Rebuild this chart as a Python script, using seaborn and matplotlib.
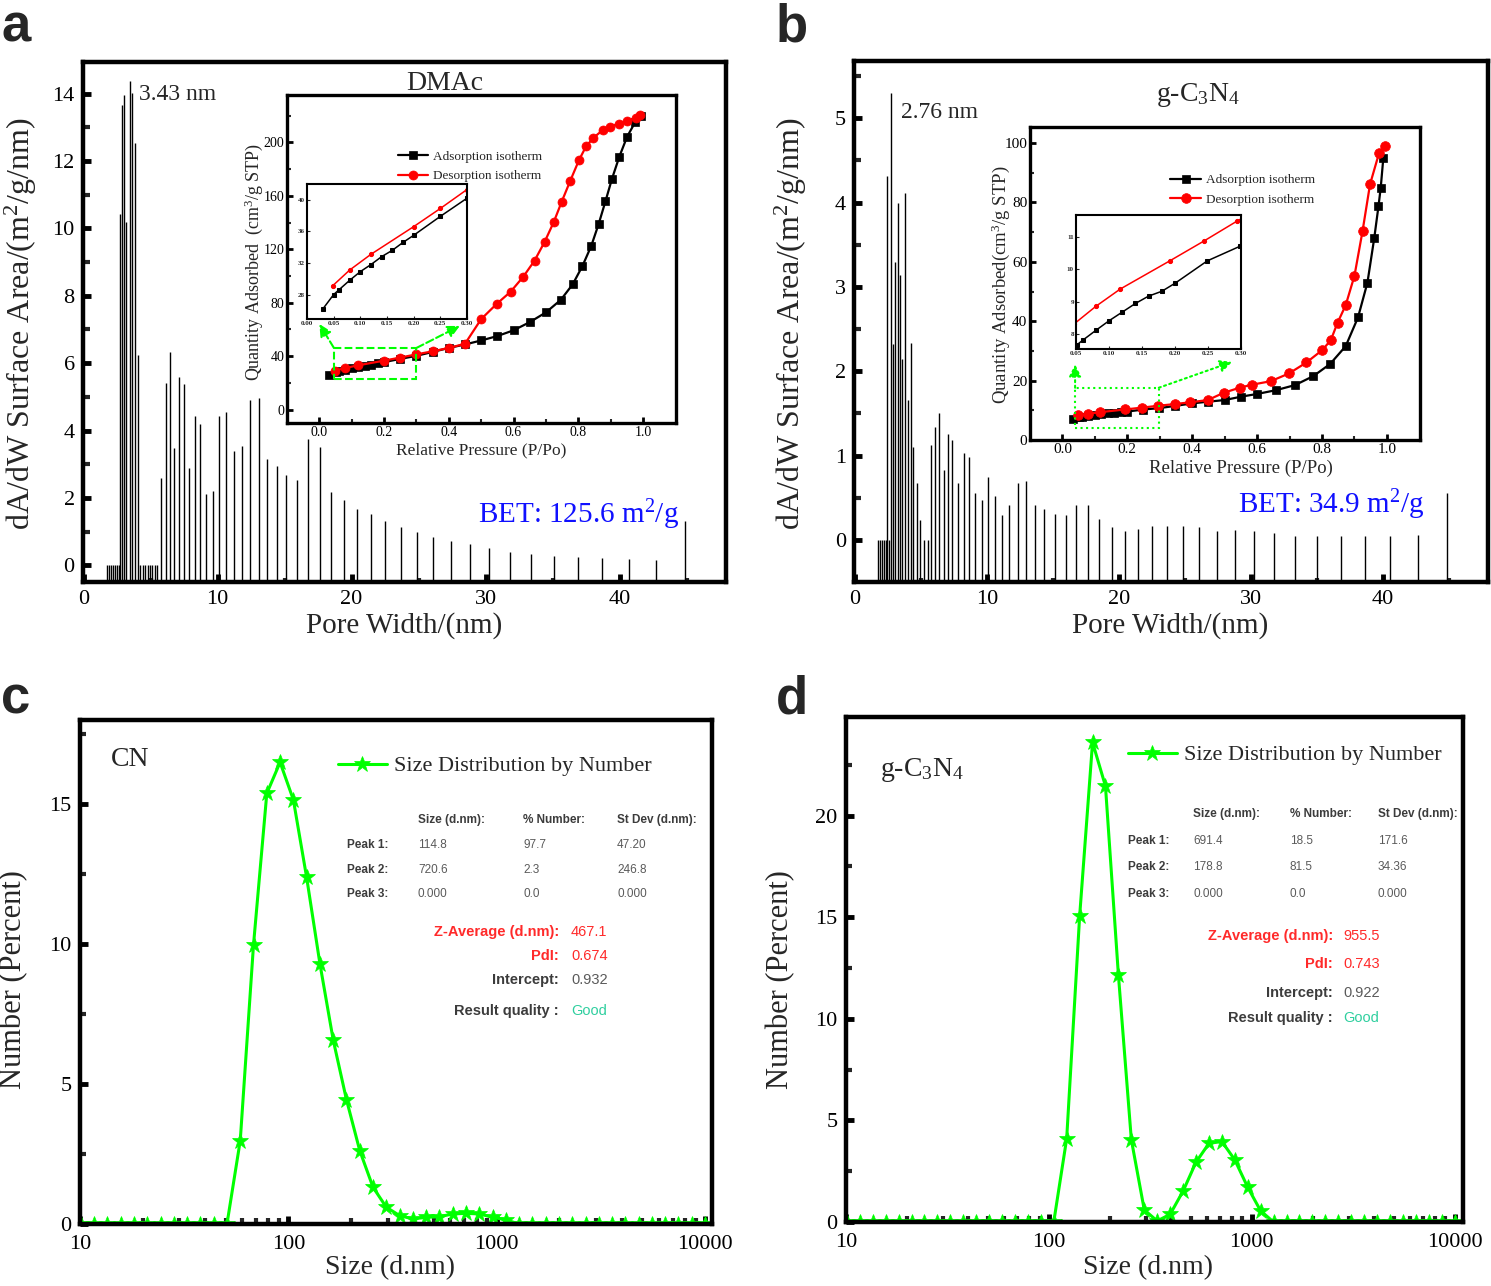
import numpy as np
import pandas as pd
import matplotlib
matplotlib.use("Agg")
import matplotlib.pyplot as plt
import seaborn as sns
from matplotlib.patches import Rectangle

W, H = 1491, 1286

# ---------------- data ----------------
# panel a: pore size distribution, DMAc sample
a_pore = [1.75, 1.9, 2.05, 2.2, 2.35, 2.5, 2.65, 2.72, 2.88, 3.03, 3.2, 3.43, 3.63, 3.83, 4.05,
          4.2, 4.43, 4.6, 4.78, 4.95, 5.13, 5.3, 5.48,
          5.8, 6.15, 6.43, 6.75, 7.1, 7.5, 7.88, 8.3, 8.7, 9.13, 9.65, 10.13, 10.65, 11.23, 11.83,
          12.45, 13.08, 13.7, 14.45,
          15.12, 15.9, 16.74, 17.61, 18.49, 19.41, 20.4, 21.42, 22.52, 23.66, 24.86, 26.1, 27.45,
          28.82, 30.29, 31.8, 33.42, 35.11, 36.88, 38.72, 40.67, 42.7, 44.9]
a_area = [0, 0, 0, 0, 0, 0, 0, 10.44, 13.65, 13.97, 10.19, 14.38, 14.02, 12.53, 6.24,
          0, 0, 0, 0, 0, 0, 0, 0,
          2.59, 5.42, 6.32, 3.48, 5.59, 5.39, 2.9, 4.44, 4.2, 2.11, 2.21, 4.44, 4.54, 3.39, 3.53,
          4.92, 4.97, 3.16, 2.96,
          2.69, 2.54, 3.76, 3.51, 2.18, 1.93, 1.68, 1.51, 1.32, 1.15, 1.0, 0.85, 0.73,
          0.62, 0.5, 0.4, 0.33, 0.29, 0.25, 0.23, 0.19, 0.15, 1.33]

# panel b: pore size distribution, g-C3N4
b_pore = [1.75, 1.9, 2.05, 2.2, 2.35, 2.45, 2.6, 2.75, 2.9, 3.05, 3.23, 3.4, 3.55, 3.8, 4.05,
          4.23, 4.43, 4.73, 4.9, 5.2, 5.5,
          5.78, 6.08, 6.35, 6.73, 7.03, 7.38, 7.78, 8.23, 8.65, 9.08, 9.6, 10.08, 10.58, 11.15,
          11.7, 12.33, 12.95, 13.63, 14.3,
          15.18, 15.95, 16.75, 17.63, 18.46, 19.44, 20.44, 21.44, 22.52, 23.65, 24.85, 26.1, 27.4,
          28.78, 30.2, 31.73, 33.31, 34.99, 36.79, 38.67, 40.56, 42.62, 44.85]
b_area = [0, 0, 0, 0, 0, 4.31, 0, 5.3, 2.32, 3.29, 3.99, 3.14, 2.14, 4.11, 1.66,
          2.34, 1.1, 0.67, 0.24, 0, 0,
          1.12, 1.34, 1.5, 0.83, 1.26, 1.19, 0.68, 1.03, 0.98, 0.55, 0.47, 0.75, 0.52, 0.3,
          0.41, 0.67, 0.7, 0.41, 0.37,
          0.31, 0.3, 0.41, 0.41, 0.25, 0.15, 0.11, 0.13, 0.17, 0.16, 0.17, 0.15, 0.11,
          0.12, 0.1, 0.08, 0.04, 0.05, 0.05, 0.05, 0.05, 0.06, 0.56]

# isotherms (inset of a)
a_ads_p = [0.03, 0.05, 0.06, 0.08, 0.1, 0.12, 0.14, 0.16, 0.18, 0.2, 0.25, 0.3, 0.35, 0.4, 0.45,
           0.5, 0.55, 0.6, 0.65, 0.7, 0.746, 0.783, 0.813, 0.84, 0.863, 0.884, 0.904, 0.927,
           0.951, 0.976, 0.994]
a_ads_q = [26.2, 28.0, 28.6, 29.8, 30.9, 31.8, 32.8, 33.6, 34.6, 35.5, 37.9, 40.2, 43.1, 46.1,
           48.7, 51.7, 55.0, 59.3, 65.4, 72.7, 82.1, 93.8, 107.5, 122.4, 138.9, 155.9, 172.6,
           189.4, 204.3, 215.2, 219.8]
a_des_p = [0.048, 0.08, 0.12, 0.2, 0.25, 0.3, 0.35, 0.4, 0.45, 0.5, 0.548, 0.591, 0.63, 0.665,
           0.696, 0.724, 0.749, 0.775, 0.802, 0.824, 0.847, 0.875, 0.899, 0.925, 0.95, 0.978, 0.992]
a_des_q = [29.1, 31.1, 33.1, 36.6, 38.9, 41.3, 43.6, 46.1, 49.2, 67.7, 79.1, 88.2, 99.4, 111.5,
           125.5, 140.2, 155.7, 171.1, 186.6, 197.0, 203.5, 209.1, 211.9, 214.0, 216.0, 218.5, 220.3]

# isotherms (inset of b)
b_ads_p = [0.031, 0.052, 0.06, 0.08, 0.1, 0.12, 0.14, 0.16, 0.18, 0.2, 0.249, 0.299, 0.348,
           0.398, 0.448, 0.5, 0.551, 0.6, 0.659, 0.717, 0.773, 0.825, 0.873, 0.911, 0.94, 0.961,
           0.974, 0.981, 0.989]
b_ads_q = [6.95, 7.66, 7.79, 8.1, 8.4, 8.67, 8.94, 9.17, 9.32, 9.57, 10.27, 10.73, 11.5, 12.3,
           12.9, 13.45, 14.6, 15.5, 16.8, 18.5, 21.5, 25.6, 31.6, 41.3, 53.0, 68.0, 78.7, 85.0, 95.0]
b_des_p = [0.047, 0.08, 0.117, 0.193, 0.244, 0.294, 0.346, 0.394, 0.448, 0.497, 0.546, 0.583,
           0.642, 0.698, 0.752, 0.801, 0.827, 0.848, 0.873, 0.9, 0.925, 0.948, 0.976, 0.994]
b_des_q = [8.3, 8.85, 9.39, 10.28, 10.89, 11.51, 12.1, 12.7, 13.45, 15.9, 17.6, 18.6, 19.8, 22.4,
           26.1, 30.3, 33.6, 39.5, 45.4, 55.3, 70.4, 86.1, 96.7, 99.0]

# DLS size classes (nm) and number distributions
dls_size = [10.1, 11.7, 13.54, 15.69, 18.17, 21.04, 24.36, 28.21, 32.67, 37.84, 43.82, 50.75,
            58.77, 68.06, 78.82, 91.28, 105.7, 122.4, 141.8, 164.2, 190.1, 220.2, 255.0, 295.3,
            342.0, 396.1, 458.7, 531.2, 615.1, 712.4, 825.0, 955.4, 1106, 1281, 1484, 1718,
            1990, 2305, 2669, 3091, 3580, 4145, 4801, 5560, 6439, 7456, 8635, 10000]
cn_number = [0, 0, 0, 0, 0, 0, 0, 0, 0, 0, 0, 0,
             2.98, 9.98, 15.38, 16.49, 15.15, 12.38, 9.29, 6.57, 4.44, 2.62, 1.31, 0.6,
             0.3, 0.18, 0.24, 0.26, 0.36, 0.38, 0.36, 0.24, 0.15, 0, 0, 0,
             0, 0, 0, 0, 0, 0, 0, 0, 0, 0, 0, 0]
gcn_number = [0, 0, 0, 0, 0, 0, 0, 0, 0, 0, 0, 0,
              0, 0, 0, 0, 0, 4.1, 15.05, 23.6, 21.45, 12.15, 4.05, 0.6,
              0.05, 0.38, 1.52, 2.94, 3.87, 3.96, 3.06, 1.71, 0.55, 0, 0, 0,
              0, 0, 0, 0, 0, 0, 0, 0, 0, 0, 0, 0]

# DLS report tables
table_head = ["Size (d.nm):", "% Number:", "St Dev (d.nm):"]
cn_peaks = [["Peak 1:", "114.8", "97.7", "47.20"],
            ["Peak 2:", "720.6", "2.3", "246.8"],
            ["Peak 3:", "0.000", "0.0", "0.000"]]
gcn_peaks = [["Peak 1:", "691.4", "18.5", "171.6"],
             ["Peak 2:", "178.8", "81.5", "34.36"],
             ["Peak 3:", "0.000", "0.0", "0.000"]]
summary_keys = ["Z-Average (d.nm):", "PdI:", "Intercept:", "Result quality :"]
cn_summary = ["467.1", "0.674", "0.932", "Good"]
gcn_summary = ["955.5", "0.743", "0.922", "Good"]

# ---------------- style ----------------
sns.set_theme(style="ticks")
plt.rcParams["font.family"] = ["Liberation Serif", "DejaVu Serif"]
plt.rcParams["mathtext.fontset"] = "custom"
plt.rcParams["mathtext.rm"] = "Liberation Serif"
plt.rcParams["mathtext.it"] = "Liberation Serif:italic"
plt.rcParams["mathtext.bf"] = "Liberation Serif:bold"
plt.rcParams["mathtext.default"] = "regular"

GREEN = "#00ff00"
RED = "#ff0000"

fig = plt.figure(figsize=(W / 100, H / 100), dpi=100)
fig.patch.set_facecolor("white")


def px_axes(l, t, r, b):
    return fig.add_axes([l / W, 1 - b / H, (r - l) / W, (b - t) / H])


def label(x, y, s, size, **kw):
    kw.setdefault("ha", "center")
    kw.setdefault("va", "center")
    return fig.text(x / W, 1 - y / H, s, fontsize=size, **kw)


def frame(ax, lw):
    ax.set_facecolor("white")
    for sp in ax.spines.values():
        sp.set_linewidth(lw)
        sp.set_color("black")


def isotherm_inset(box, ads_p, ads_q, des_p, des_q, ylim, yt, ymt, leg_anchor, ms, tsize):
    ax = px_axes(*box)
    frame(ax, 2.4)
    sns.lineplot(x=ads_p, y=ads_q, ax=ax, color="black", marker="s", markersize=ms,
                 markeredgecolor="black", markeredgewidth=0.5, lw=1.6,
                 label="Adsorption isotherm")
    sns.lineplot(x=des_p, y=des_q, ax=ax, color=RED, marker="o", markersize=ms + 1,
                 markeredgecolor=RED, markeredgewidth=0.5, lw=1.6,
                 label="Desorption isotherm")
    ax.set_xlim(-0.1, 1.102)
    ax.set_ylim(*ylim)
    ax.set_xticks([0, 0.2, 0.4, 0.6, 0.8, 1.0])
    ax.set_xticklabels(["0.0", "0.2", "0.4", "0.6", "0.8", "1.0"])
    ax.set_xticks(np.arange(0.1, 1.0, 0.2), minor=True)
    ax.set_yticks(yt)
    ax.set_yticks(ymt, minor=True)
    ax.tick_params(which="major", direction="in", length=4, width=2, labelsize=tsize,
                   pad=2, colors="black")
    ax.tick_params(which="minor", direction="in", length=3, width=1.5)
    ax.legend(loc="upper left", bbox_to_anchor=leg_anchor, frameon=False, fontsize=9.5,
              handlelength=2.3, handletextpad=0.4, labelspacing=0.55, borderpad=0,
              borderaxespad=0)
    return ax


def mini_inset(box, ads_p, ads_q, des_p, des_q, xlim, ylim, xt, xtl, yt):
    ax = px_axes(*box)
    frame(ax, 1.5)
    sns.lineplot(x=ads_p, y=ads_q, ax=ax, color="black", marker="s", markersize=2.5,
                 markeredgecolor="black", lw=1.1, legend=False)
    sns.lineplot(x=des_p, y=des_q, ax=ax, color=RED, marker="o", markersize=3,
                 markeredgecolor=RED, lw=1.1, legend=False)
    ax.set_xlim(*xlim)
    ax.set_ylim(*ylim)
    ax.set_xticks(xt)
    ax.set_xticklabels(xtl)
    ax.set_yticks(yt)
    ax.tick_params(direction="in", length=2, width=0.8, labelsize=5, pad=1.5)
    for t in ax.get_xticklabels() + ax.get_yticklabels():
        t.set_fontweight("bold")
    return ax


def zoom_marks(ax, rect, src, dst, ls):
    x0, y0, w, h = rect
    ax.add_patch(Rectangle((x0, y0), w, h, fill=False, ec=GREEN, ls=ls, lw=1.5, zorder=5))
    for s, d in zip(src, dst):
        ax.annotate("", xy=d, xytext=s,
                    arrowprops=dict(arrowstyle="-|>", color=GREEN, ls=ls, lw=1.5,
                                    mutation_scale=18, shrinkA=0, shrinkB=0))


def pore_panel(box, pore, area, ylim, yt, ymt, xlim):
    ax = px_axes(*box)
    frame(ax, 3.2)
    ax.vlines(pore, ylim[0], area, color="black", lw=1.0)
    ax.set_xlim(*xlim)
    ax.set_ylim(*ylim)
    ax.set_xticks([0, 10, 20, 30, 40])
    ax.set_xticks([5, 15, 25, 35, 45], minor=True)
    ax.set_yticks(yt)
    ax.set_yticks(ymt, minor=True)
    ax.tick_params(which="major", direction="in", length=6, width=3.5, labelsize=16,
                   pad=6, colors="black")
    ax.tick_params(which="minor", direction="in", length=5, width=3)
    ax.tick_params(axis="x", which="minor", length=3)
    return ax


# ---------------- panel a ----------------
ax_a = pore_panel((83, 62, 725.5, 581.5), a_pore, a_area, (-0.48, 14.94),
                  np.arange(0, 15, 2), np.arange(1, 15, 2), (-0.04, 47.9))
label(178, 95, "3.43 nm", 17)
label(445, 84, "DMAc", 20)
label(579, 515, "BET: 125.6 m$^2$/g", 21, color="#1010ff")
label(21, 324, "dA/dW Surface Area/(m$^2$/g/nm)", 23, rotation=90)
label(404, 626, "Pore Width/(nm)", 21)

ins_a = isotherm_inset((287, 95, 676, 423), a_ads_p, a_ads_q, a_des_p, a_des_q,
                       (-10.1, 235.5), [0, 40, 80, 120, 160, 200], np.arange(20, 240, 40),
                       (0.285, 0.83), 5.5, 10)
zoom_marks(ins_a, (0.045, 22.8, 0.255, 23.3), [(0.045, 46.1), (0.30, 46.1)],
           [(0.0, 64), (0.434, 62.6)], "--")
label(254, 262, "Quantity Adsorbed  (cm$^3$/g STP)", 13, rotation=90)
label(481, 450, "Relative Pressure (P/Po)", 12.5)
mini_inset((307, 184, 467, 319), a_ads_p, a_ads_q, a_des_p, a_des_q, (0, 0.30), (24.9, 42.0),
           [0, 0.05, 0.10, 0.15, 0.20, 0.25, 0.30],
           ["0.00", "0.05", "0.10", "0.15", "0.20", "0.25", "0.30"], [28, 32, 36, 40])

# ---------------- panel b ----------------
ax_b = pore_panel((854.5, 61, 1488, 582), b_pore, b_area, (-0.5, 5.68),
                  np.arange(0, 6, 1), np.arange(0.5, 6, 1), (-0.04, 47.96))
label(940, 112, "2.76 nm", 17)
label(1198, 95, "g-C$_3$N$_4$", 20)
label(1331, 505, "BET: 34.9 m$^2$/g", 21, color="#1010ff")
label(791, 324, "dA/dW Surface Area/(m$^2$/g/nm)", 23, rotation=90)
label(1170, 626, "Pore Width/(nm)", 21)

ins_b = isotherm_inset((1030, 127, 1420, 440), b_ads_p, b_ads_q, b_des_p, b_des_q,
                       (0, 105.4), [0, 20, 40, 60, 80, 100], np.arange(10, 105, 20),
                       (0.36, 0.85), 6, 11)
zoom_marks(ins_b, (0.039, 3.9, 0.258, 13.7), [(0.039, 17.6), (0.297, 17.6)],
           [(0.039, 25.5), (0.523, 26.3)], ":")
label(1001, 285, "Quantity Adsorbed(cm$^3$/g STP)", 13.5, rotation=90)
label(1241, 468, "Relative Pressure (P/Po)", 13.5)
mini_inset((1076, 215, 1241, 349), b_ads_p, b_ads_q, b_des_p, b_des_q, (0.05, 0.30),
           (7.52, 11.7), [0.05, 0.10, 0.15, 0.20, 0.25, 0.30],
           ["0.05", "0.10", "0.15", "0.20", "0.25", "0.30"], [8, 9, 10, 11])


# ---------------- panels c, d ----------------
def dls_panel(box, y, ylim, yt, ymt, xlim, leg_anchor):
    ax = px_axes(*box)
    frame(ax, 3.2)
    ax.set_xscale("log")
    sns.lineplot(x=dls_size, y=y, ax=ax, color=GREEN, marker="*", markersize=12,
                 markeredgecolor=GREEN, markeredgewidth=0.5, lw=2.2,
                 label="Size Distribution by Number")
    ax.set_xlim(*xlim)
    ax.set_ylim(*ylim)
    ax.set_xticks([10, 100, 1000, 10000])
    ax.set_xticklabels(["10", "100", "1000", "10000"])
    ax.set_yticks(yt)
    ax.set_yticks(ymt, minor=True)
    ax.tick_params(which="major", direction="in", length=6, width=3.5, labelsize=16,
                   pad=6, colors="black")
    ax.tick_params(axis="x", which="major", pad=8)
    ax.tick_params(which="minor", direction="in", length=4, width=3)
    ax.legend(loc="center left", bbox_to_anchor=leg_anchor, frameon=False, fontsize=16,
              handlelength=2.2, handletextpad=0.3, borderpad=0, borderaxespad=0)
    return ax


def dls_table(x_lab, x_cols, y_head, y_rows, peaks, x_key, x_val, y_sum, summary):
    dark = "#3c3c3c"
    grey = "#5a5a5a"
    for xc, s in zip(x_cols, table_head):
        label(xc, y_head, s, 8.5, ha="left", family="Liberation Sans", weight="bold",
              color=dark)
    for yr, row in zip(y_rows, peaks):
        label(x_lab, yr, row[0], 8.5, ha="left", family="Liberation Sans", weight="bold",
              color=dark)
        for xc, s in zip(x_cols, row[1:]):
            label(xc, yr, s, 8.5, ha="left", family="Liberation Sans", color=grey)
    key_cols = ["#ff2a2a", "#ff2a2a", dark, dark]
    val_cols = ["#ff2a2a", "#ff2a2a", grey, "#2fcf9f"]
    for yk, k, v, kc, vc in zip(y_sum, summary_keys, summary, key_cols, val_cols):
        label(x_key, yk, k, 10.5, ha="right", family="Liberation Sans", weight="bold",
              color=kc)
        label(x_val, yk, v, 10.5, ha="left", family="Liberation Sans", color=vc)


ax_c = dls_panel((80, 720, 712, 1224), cn_number, (0, 18), [0, 5, 10, 15],
                 [2.5, 7.5, 12.5, 17.5], (10.8, 10800), (258 / 632, 1 - 46 / 504))
label(130, 760, "CN", 20)
label(14, 980, "Number (Percent)", 22, rotation=90)
label(390, 1268, "Size (d.nm)", 20)
dls_table(347, [418, 523, 617], 820, [845, 870, 894], cn_peaks, 559, 571,
          [932, 956, 980, 1011], cn_summary)

ax_d = dls_panel((846, 717, 1463, 1222), gcn_number, (0, 24.85), [0, 5, 10, 15, 20],
                 [2.5, 7.5, 12.5, 17.5, 22.5], (10.8, 11000), (282 / 617, 1 - 38 / 505))
label(922, 770, "g-C$_3$N$_4$", 20)
label(781, 980, "Number (Percent)", 22, rotation=90)
label(1148, 1268, "Size (d.nm)", 20)
dls_table(1128, [1193, 1290, 1378], 814, [841, 867, 894], gcn_peaks, 1333, 1343,
          [936, 964, 993, 1018], gcn_summary)

# panel letters
for x, y, s in [(16, 27, "a"), (792, 27, "b"), (16, 700, "c"), (792, 700, "d")]:
    label(x, y, s, 38, family="Liberation Sans", weight="bold")

fig.savefig("out.png", dpi=100, facecolor="white")
